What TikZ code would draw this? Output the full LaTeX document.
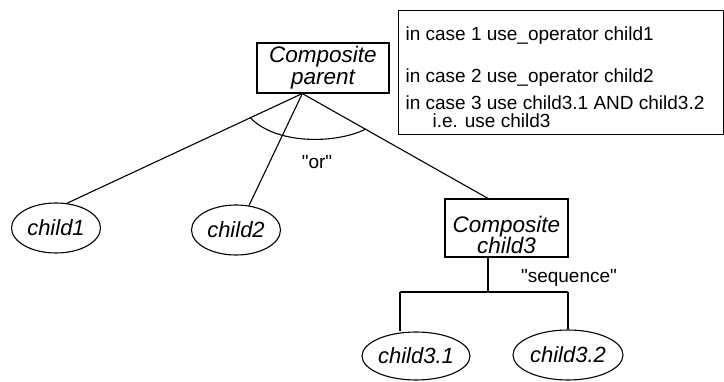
\documentclass[tikz,border=0pt]{standalone}
\usepackage{fontspec}
\setmainfont{Liberation Sans}[Ligatures=TeXOff]
\usetikzlibrary{shapes.geometric}
\begin{document}
\begin{tikzpicture}[x=1pt, y=-1pt, line width=1.1pt,
  compbox/.style={draw, rectangle, inner sep=0pt, align=center,
    font=\fontsize{22.5}{22}\selectfont\itshape},
  comptext/.style={inner sep=0pt, align=center,
    font=\fontsize{22.5}{21}\selectfont\itshape},
  leaf/.style={draw, ellipse, inner sep=0pt,
    font=\fontsize{22}{22}\selectfont\itshape},
  noteline/.style={inner sep=0pt, anchor=base west,
    font=\fontsize{19}{19}\selectfont},
  edgelabel/.style={inner sep=0pt, font=\fontsize{19}{19}\selectfont}]
\useasboundingbox (0,0) rectangle (724,382);

% composite parent and its three alternatives
\node[compbox, minimum width=132, minimum height=50] (parent) at (323,68)
  {Composite\\parent};
\node[leaf, minimum width=89, minimum height=50] (child1) at (56,228) {child1};
\node[leaf, minimum width=89, minimum height=50] (child2) at (236,230) {child2};
\node[draw, rectangle, inner sep=0pt, minimum width=123, minimum height=58]
  (child3) at (506.5,228) {};
\node[comptext] (child3text) at (506.5,234.5) {Composite\\child3};

% the sequence below child3
\node[leaf, minimum width=108, minimum height=48] (child31) at (416,356) {child3.1};
\node[leaf, minimum width=110, minimum height=50] (child32) at (568,355) {child3.2};

% note box
\node[draw, rectangle, inner sep=0pt, minimum width=325, minimum height=124,
  anchor=north west] (note) at (398,10) {};
\node[noteline] (n1) at (405,40.7) {in case 1 use\_operator child1};
\node[noteline] (n2) at (405,83) {in case 2 use\_operator child2};
\node[noteline] (n3) at (405,109.5) {in case 3 use child3.1 AND child3.2};
\node[noteline] (n4) at (432,127.5) {i.e. use child3};

% "or" branches from a single point under the parent
\coordinate (apex) at (parent.231.3);
\draw (apex) -- (child1.66);
\draw (apex) -- (child2.62);
\coordinate (c3top) at (child3.122.5);
\draw (apex) -- (c3top);
\draw (250,117.4) .. controls (276,145) and (336,144) .. (366,129);
\node[edgelabel] (orlabel) at (317,162) {"or"};

% "sequence" fork
\coordinate (fork) at (c3top |- 0,292);
\coordinate (forkl) at (400,292);
\coordinate (forkr) at (child32.north |- fork);
\draw (c3top |- child3.south) -- (fork);
\draw (forkl) -- (forkr);
\draw (forkl) -- (forkl |- child31.north);
\draw (forkr) -- (child32.north);
\node[edgelabel] (seqlabel) at (569,278) {"sequence"};
\end{tikzpicture}
\end{document}
